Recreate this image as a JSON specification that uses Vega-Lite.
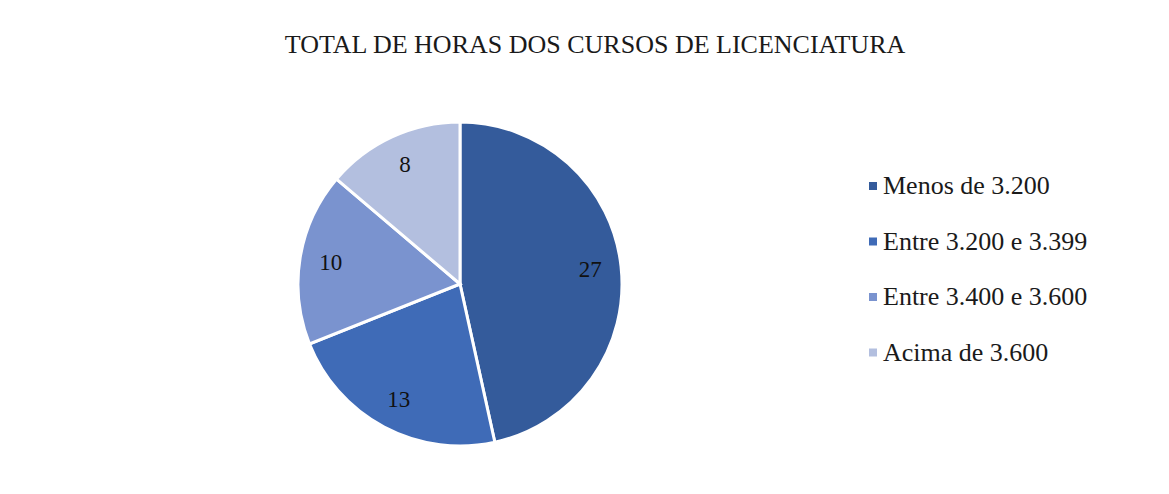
{
  "$schema": "https://vega.github.io/schema/vega-lite/v6.json",
  "width": 324,
  "height": 324,
  "autosize": {"type": "none"},
  "padding": {"left": 298, "top": 122, "right": 547, "bottom": 48},
  "background": "white",
  "title": {
    "text": "TOTAL  DE HORAS DOS CURSOS DE LICENCIATURA",
    "font": "Liberation Serif",
    "fontSize": 26,
    "fontWeight": "normal",
    "color": "#1a1a1a",
    "anchor": "middle",
    "dx": 135,
    "offset": 58
  },
  "data": {
    "values": [
      {"categoria": "Menos de 3.200", "valor": 27},
      {"categoria": "Entre 3.200 e 3.399", "valor": 13},
      {"categoria": "Entre 3.400 e 3.600", "valor": 10},
      {"categoria": "Acima de 3.600", "valor": 8}
    ]
  },
  "encoding": {
    "theta": {"field": "valor", "type": "quantitative", "stack": true},
    "order": {"field": "valor", "sort": "descending"}
  },
  "layer": [
    {
      "mark": {"type": "arc", "stroke": "white", "strokeWidth": 3},
      "encoding": {
        "color": {
          "field": "categoria",
          "type": "nominal",
          "sort": null,
          "scale": {
            "domain": ["Menos de 3.200", "Entre 3.200 e 3.399", "Entre 3.400 e 3.600", "Acima de 3.600"],
            "range": ["#345B9B", "#3F6BB7", "#7A93CF", "#B3BFDF"]
          },
          "legend": {
            "title": null,
            "orient": "none",
            "legendX": 562,
            "legendY": 51,
            "symbolType": "square",
            "symbolSize": 64,
            "symbolStrokeWidth": 0,
            "labelFont": "Liberation Serif",
            "labelFontSize": 26,
            "labelColor": "#1a1a1a",
            "labelOffset": -3,
            "rowPadding": 29.5,
            "labelLimit": 400
          }
        }
      }
    },
    {
      "mark": {"type": "text", "radius": 131, "font": "Liberation Serif", "fontSize": 23, "color": "#111111", "baseline": "middle"},
      "encoding": {
        "text": {"field": "valor", "type": "quantitative"}
      }
    }
  ],
  "config": {"view": {"stroke": null}}
}
